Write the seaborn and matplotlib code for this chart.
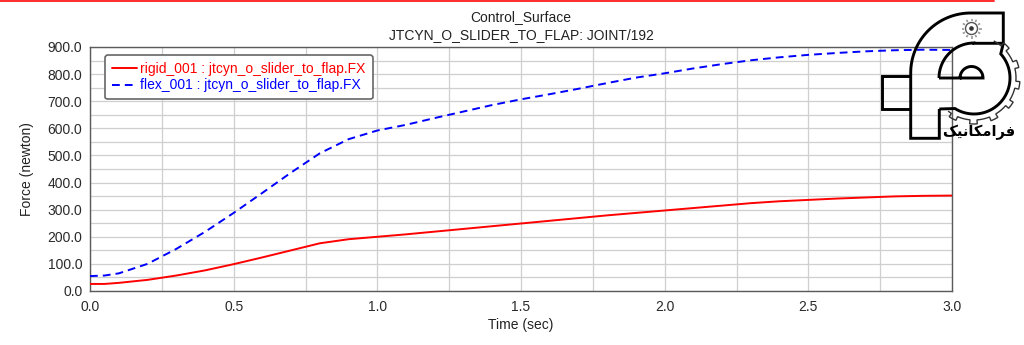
import numpy as np
import pandas as pd
import matplotlib
matplotlib.use("Agg")
import matplotlib.pyplot as plt
from matplotlib.path import Path
from matplotlib.patches import PathPatch, Circle
from matplotlib.lines import Line2D
from matplotlib.ticker import MultipleLocator, FormatStrFormatter
import seaborn as sns

# ---- data: joint force FX vs simulation time ----
time_s = [0.0, 0.05, 0.1, 0.2, 0.3, 0.4, 0.5, 0.6, 0.7, 0.8, 0.9, 1.0,
          1.1, 1.2, 1.3, 1.4, 1.5, 1.6, 1.7, 1.8, 1.9, 2.0,
          2.1, 2.2, 2.3, 2.4, 2.5, 2.6, 2.7, 2.8, 2.9, 3.0]
rigid_fx = [26, 26, 30, 41, 57, 76, 99, 124, 150, 176, 191, 200,
            209, 219, 229, 239, 249, 259, 269, 279, 288, 297,
            306, 315, 324, 331, 336, 341, 345, 349, 351, 352]
flex_fx = [55, 57, 65, 100, 155, 218, 288, 362, 437, 508, 560, 592,
           613, 638, 662, 686, 707, 726, 746, 767, 787, 803,
           821, 837, 851, 862, 871, 878, 884, 888, 890, 889]
series_labels = ["rigid_001 : jtcyn_o_slider_to_flap.FX",
                 "flex_001 : jtcyn_o_slider_to_flap.FX"]
title_lines = ["Control_Surface", "JTCYN_O_SLIDER_TO_FLAP: JOINT/192"]
x_label = "Time (sec)"
y_label = "Force (newton)"
brand_text = "\uFB8F\uFBFF\uFEE7\uFE8E\uFB91\uFEE3\uFE8D\uFEAE\uFED3"  # فرامکانیک, shaped glyphs

sns.set_style("white")
plt.rcParams["font.family"] = ["Liberation Sans", "DejaVu Sans"]

W, H = 1024, 345
fig = plt.figure(figsize=(W / 100, H / 100), dpi=100)
fig.patch.set_facecolor("white")

ax = fig.add_axes([90 / W, 1 - 291 / H, 862 / W, 244 / H])

df = pd.DataFrame({
    "Time": time_s + time_s,
    "Force": rigid_fx + flex_fx,
    "Series": [series_labels[0]] * len(time_s) + [series_labels[1]] * len(time_s),
})
sns.lineplot(data=df[df.Series == series_labels[0]], x="Time", y="Force",
             ax=ax, color="#ff0000", lw=1.4, label=series_labels[0], zorder=3)
sns.lineplot(data=df[df.Series == series_labels[1]], x="Time", y="Force",
             ax=ax, color="#0000ff", lw=1.4, linestyle=(0, (4, 2.6)),
             label=series_labels[1], zorder=3)

ax.set_xlim(0, 3.0)
ax.set_ylim(0, 900)
ax.xaxis.set_major_locator(MultipleLocator(0.5))
ax.xaxis.set_minor_locator(MultipleLocator(0.25))
ax.yaxis.set_major_locator(MultipleLocator(100))
ax.yaxis.set_minor_locator(MultipleLocator(50))
ax.xaxis.set_major_formatter(FormatStrFormatter("%.1f"))
ax.yaxis.set_major_formatter(FormatStrFormatter("%.1f"))
ax.grid(which="both", color="#cfcfcf", lw=0.9, zorder=0)
ax.set_axisbelow(True)

ax.tick_params(which="both", direction="out", length=3, width=0.9,
               color="#555555", labelsize=10, labelcolor="#2a2a2a")
ax.tick_params(axis="x", which="major", pad=3.5)
ax.tick_params(axis="y", which="major", pad=2.5)
for s in ax.spines.values():
    s.set_visible(True)
    s.set_color("#5a5a5a")
    s.set_linewidth(1.0)

ax.set_xlabel(x_label, fontsize=10, color="#222222")
ax.set_ylabel(y_label, fontsize=10, color="#222222")
ax.xaxis.set_label_coords(0.5, (291 - 318) / 244)
ax.yaxis.set_label_coords((34 - 90) / 862, 0.5)

leg = ax.legend(loc="upper left", bbox_to_anchor=((105 - 90) / 862, (291 - 55) / 244),
                borderaxespad=0, frameon=True, fancybox=True, fontsize=10,
                handlelength=1.8, handletextpad=0.25, labelspacing=0.18,
                borderpad=0.5, labelcolor="linecolor", framealpha=1)
leg.get_frame().set_edgecolor("#666666")
leg.get_frame().set_linewidth(1.2)

for i, t in enumerate(title_lines):
    fig.text(521 / W, 1 - (17 + 18 * i) / H, t, ha="center", va="center",
             fontsize=10, color="#222222")

# thin red rule along the top edge
fig.add_artist(Line2D([0, 994 / W], [1 - 0.8 / H] * 2, color="#ff1a1a",
                      lw=1.3, transform=fig.transFigure))

# ---- brand mark (drawn in pixel coordinates) ----
lg = fig.add_axes([850 / W, 1 - 160 / H, 174 / W, 160 / H], zorder=5)
lg.set_xlim(850, 1024)
lg.set_ylim(160, 0)
lg.axis("off")
lg.patch.set_alpha(0)


def arc(cx, cy, r, a0, a1, n=40):
    a = np.radians(np.linspace(a0, a1, n))
    return list(zip(cx + r * np.cos(a), cy - r * np.sin(a)))


def stroke(points, lw=2.1, color="black", closed=False):
    verts = list(points)
    codes = [Path.MOVETO] + [Path.LINETO] * (len(verts) - 1)
    if closed:
        verts.append(verts[0])
        codes.append(Path.CLOSEPOLY)
    lg.add_patch(PathPatch(Path(verts, codes), fill=False, lw=lw,
                           edgecolor=color, joinstyle="miter", capstyle="butt"))


# stem, outer curve, top bar and upper-left of the bowl
body = [(939.3, 109), (939.3, 138.3), (910.7, 138.3)]
body += arc(970.7, 73, 60, 180, 90)
body += [(1003.3, 13), (1003.3, 43.3), (974, 43.3)]
body += arc(974, 78, 35, 90, 180)
body += [(939, 78)]
stroke(body)
# cross bar on the left
stroke([(910.7, 75.7), (881.7, 75.7), (881.7, 109), (910.7, 109)])
# right side of the bowl
bowl = [(1003.3, 43.3)] + arc(974, 78, 36, 42, -122) + [(939.3, 109)]
stroke(bowl)
# small dome with its base line
stroke([(939, 78), (960, 78)] + arc(971.5, 78, 11.5, 180, 0) + [(983, 78), (960, 78)])

# gear rim around the bowl
gear = []
n_teeth = 7
a_start, a_end = 62, -128
span = (a_start - a_end) / n_teeth
for k in range(n_teeth):
    a0 = a_start - k * span
    gear += arc(974, 78, 42, a0, a0 - span * 0.45, 6)
    gear += arc(974, 78, 46, a0 - span * 0.45, a0 - span * 0.8, 6)
    gear += arc(974, 78, 42, a0 - span * 0.8, a0 - span, 4)
stroke(gear, lw=1.0, color="#333333")

# small sun / cog icon
lg.add_patch(Circle((971.5, 28.5), 6, fill=False, lw=1.0, edgecolor="#555555"))
lg.add_patch(Circle((971.5, 28.5), 1.6, color="#333333"))
for a in np.radians(np.arange(0, 360, 30)):
    lg.plot([971.5 + 7.5 * np.cos(a), 971.5 + 10 * np.cos(a)],
            [28.5 + 7.5 * np.sin(a), 28.5 + 10 * np.sin(a)],
            color="#9a9a9a", lw=1.2, solid_capstyle="butt")

lg.text(978.5, 132, brand_text, ha="center", va="center", fontsize=10.5,
        fontweight="bold", family=["DejaVu Sans"], color="black")

fig.savefig("out.png", dpi=100, facecolor="white")
